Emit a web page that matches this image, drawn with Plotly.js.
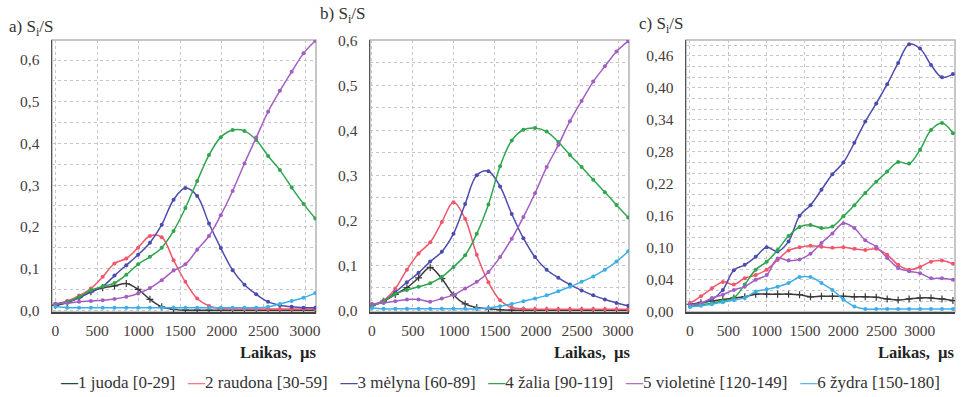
<!DOCTYPE html>
<html>
<head>
<meta charset="utf-8">
<script src="https://cdn.plot.ly/plotly-3.0.1.min.js"></script>
<style>html,body{margin:0;padding:0;background:#fff;}#chart{width:961px;height:397px;}</style>
</head>
<body>
<div id="chart"></div>
<script>
// ---- data ----
const seriesNames = ['1 juoda [0-29]', '2 raudona [30-59]', '3 mėlyna [60-89]', '4 žalia [90-119]', '5 violetinė [120-149]', '6 žydra [150-180]'];
const tA = [0,142,284,426,568,710,852,994,1136,1278,1420,1562,1704,1846,1988,2130,2272,2414,2556,2698,2840,2982,3124];
const tB = [0,142,284,426,568,710,852,994,1136,1278,1420,1562,1704,1846,1988,2130,2272,2414,2556,2698,2840,2982,3124];
const tC = [0,143,286,429,572,715,858,1001,1144,1287,1430,1573,1716,1859,2002,2145,2288,2431,2574,2717,2860,3003,3146,3289,3432];

const juodaA = [0.012,0.018,0.03,0.044,0.054,0.058,0.064,0.05,0.026,0.008,0.002,0,0,0,0,0,0,0,0,0,0,0,0];
const raudonaA = [0.015,0.022,0.035,0.052,0.08,0.112,0.124,0.15,0.178,0.175,0.12,0.068,0.028,0.01,0.004,0.003,0.003,0.003,0.003,0.003,0.003,0.003,0.003];
const melynaA = [0.015,0.02,0.03,0.044,0.057,0.083,0.108,0.133,0.162,0.205,0.265,0.293,0.274,0.208,0.149,0.096,0.061,0.038,0.02,0.012,0.008,0.006,0.006];
const zaliaA = [0.015,0.02,0.032,0.048,0.057,0.065,0.085,0.11,0.128,0.15,0.19,0.245,0.31,0.372,0.415,0.432,0.43,0.408,0.37,0.336,0.294,0.255,0.22];
const violetineA = [0.015,0.017,0.02,0.022,0.024,0.027,0.032,0.04,0.053,0.072,0.095,0.11,0.145,0.178,0.228,0.286,0.352,0.414,0.476,0.526,0.572,0.616,0.646];
const zydraA = [0.008,0.006,0.006,0.006,0.006,0.006,0.006,0.006,0.006,0.006,0.006,0.006,0.006,0.006,0.006,0.006,0.006,0.006,0.008,0.015,0.022,0.03,0.041];

const juodaB = [0.01,0.02,0.035,0.05,0.072,0.095,0.07,0.034,0.014,0.006,0.003,0.001,0,0,0,0,0,0,0,0,0,0,0];
const raudonaB = [0.012,0.022,0.048,0.09,0.126,0.151,0.196,0.24,0.203,0.123,0.062,0.022,0.006,0.003,0.002,0.002,0.002,0.002,0.002,0.002,0.002,0.002,0.002];
const melynaB = [0.01,0.02,0.04,0.062,0.083,0.108,0.13,0.17,0.236,0.3,0.309,0.275,0.214,0.16,0.118,0.09,0.072,0.057,0.044,0.033,0.024,0.016,0.01];
const zaliaB = [0.01,0.02,0.036,0.045,0.052,0.06,0.074,0.096,0.122,0.17,0.235,0.32,0.377,0.401,0.405,0.397,0.374,0.345,0.318,0.29,0.262,0.234,0.206];
const violetineB = [0.014,0.016,0.02,0.024,0.024,0.019,0.026,0.034,0.048,0.063,0.085,0.118,0.159,0.207,0.26,0.318,0.367,0.42,0.465,0.508,0.542,0.575,0.598];
const zydraB = [0.005,0.003,0.003,0.003,0.003,0.003,0.003,0.003,0.003,0.003,0.005,0.009,0.014,0.02,0.026,0.033,0.042,0.052,0.063,0.075,0.09,0.108,0.131];

const juodaC = [-0.006,-0.003,0.0,0.003,0.006,0.008,0.013,0.013,0.013,0.013,0.012,0.008,0.009,0.009,0.009,0.008,0.008,0.007,0.004,0.002,0.004,0.006,0.006,0.004,0.001];
const raudonaC = [-0.004,0.009,0.024,0.036,0.031,0.043,0.049,0.059,0.077,0.095,0.101,0.104,0.102,0.1,0.101,0.098,0.096,0.098,0.087,0.068,0.059,0.064,0.074,0.076,0.07];
const melynaC = [-0.007,-0.004,0.003,0.021,0.058,0.068,0.083,0.101,0.093,0.112,0.16,0.18,0.209,0.238,0.26,0.297,0.337,0.371,0.407,0.447,0.482,0.474,0.443,0.42,0.426];
const zaliaC = [-0.01,-0.007,-0.004,0.0,0.006,0.031,0.059,0.074,0.096,0.122,0.139,0.143,0.137,0.14,0.159,0.18,0.203,0.224,0.243,0.261,0.258,0.284,0.321,0.334,0.315];
const violetineC = [-0.007,-0.004,0.006,0.012,0.021,0.027,0.04,0.049,0.08,0.076,0.078,0.089,0.109,0.127,0.146,0.137,0.114,0.102,0.081,0.062,0.056,0.052,0.043,0.043,0.04];
const zydraC = [-0.011,-0.009,-0.006,-0.002,0.002,0.006,0.018,0.022,0.027,0.034,0.045,0.045,0.034,0.021,0.003,-0.01,-0.015,-0.015,-0.015,-0.015,-0.015,-0.015,-0.015,-0.015,-0.015];

const yTickValsAB = [0,0.1,0.2,0.3,0.4,0.5,0.6];
const yTickTextAB = ['0,0','0,1','0,2','0,3','0,4','0,5','0,6'];
const yTickValsC = [-0.02,0.04,0.10,0.16,0.22,0.28,0.34,0.40,0.46];
const yTickTextC = ['0,00','0,04','0,10','0,16','0,22','0,28','0,34','0,40','0,46'];
const panelTitles = ['a) S<sub>i</sub>/S', 'b) S<sub>i</sub>/S', 'c) S<sub>i</sub>/S'];
const xTitle = 'Laikas,\u00a0 µs';

// ---- styles ----
const colors = ['#3a3a3a', '#f2566a', '#4c4cae', '#2fa64e', '#a35ec2', '#3eaee6'];
const legendColors = ['#1f4a4a', '#f2788a', '#4c4cae', '#2fa64e', '#b070cc', '#5ab8ec'];
const W = 961, H = 397;
const xDom = [[52/W, 316/W], [370/W, 629/W], [686/W, 955/W]];
const yDom = [1 - 312/H, 1 - 40/H];

const panels = [
  {t: tA, ys: [juodaA, raudonaA, melynaA, zaliaA, violetineA, zydraA]},
  {t: tB, ys: [juodaB, raudonaB, melynaB, zaliaB, violetineB, zydraB]},
  {t: tC, ys: [juodaC, raudonaC, melynaC, zaliaC, violetineC, zydraC]}
];

const traces = [];
panels.forEach((p, pi) => {
  const xa = pi === 0 ? 'x' : 'x' + (pi + 1);
  const ya = pi === 0 ? 'y' : 'y' + (pi + 1);
  p.ys.forEach((y, si) => {
    traces.push({
      x: p.t, y: y, xaxis: xa, yaxis: ya, type: 'scatter', mode: 'lines+markers',
      name: seriesNames[si], showlegend: false,
      line: {color: colors[si], width: 1.5, shape: 'spline', smoothing: 1},
      marker: si === 0
        ? {symbol: 'cross-thin', size: 5, color: colors[si], line: {color: colors[si], width: 1.2}}
        : {symbol: 'circle', size: 4, color: colors[si]},
      hoverinfo: 'skip'
    });
  });
});

const tickFont = {family: 'Liberation Serif', size: 15.5, color: '#463c3c'};
function xAxis(dom, range) {
  return {domain: dom, range: range, tickmode: 'linear', tick0: 0, dtick: 500,
    showline: true, linecolor: '#444', linewidth: 1.5, mirror: false,
    showgrid: true, gridcolor: '#c6c6c6', griddash: 'dot', gridwidth: 1,
    zeroline: false, ticks: '', ticklabelstandoff: 4, tickfont: tickFont, fixedrange: true};
}
function yAxis(anchor, range, vals, text, minorDtick) {
  return {domain: yDom, anchor: anchor, range: range, tickmode: 'array', tickvals: vals, ticktext: text,
    showline: true, linecolor: '#555', linewidth: 1.5, mirror: false,
    showgrid: true, gridcolor: '#c6c6c6', griddash: 'dot', gridwidth: 1,
    minor: {tickmode: 'linear', tick0: 0, dtick: minorDtick, showgrid: true, gridcolor: '#c6c6c6', griddash: 'dot', gridwidth: 1, ticks: ''},
    zeroline: false, ticks: '', ticklabelstandoff: 8, tickfont: tickFont, fixedrange: true};
}

const annotations = [];
const titlePos = [[7, 28], [318, 15], [637, 25]];
panelTitles.forEach((txt, i) => {
  annotations.push({text: txt, xref: 'paper', yref: 'paper', x: titlePos[i][0]/W, y: 1 - titlePos[i][1]/H,
    xanchor: 'left', yanchor: 'middle', showarrow: false,
    font: {family: 'Liberation Serif', size: 17, color: '#333'}});
});
const xTitleRight = [319, 633, 957];
xTitleRight.forEach(r => {
  annotations.push({text: '<b>' + xTitle + '</b>', xref: 'paper', yref: 'paper', x: r/W, y: 1 - 352/H,
    xanchor: 'right', yanchor: 'middle', showarrow: false,
    font: {family: 'Liberation Serif', size: 16.5, color: '#222'}});
});
const legendText = seriesNames.map((n, i) => '<span style="color:' + legendColors[i] + ';font-weight:bold">—</span>' + n).join('   ');
annotations.push({text: legendText, xref: 'paper', yref: 'paper', x: 500/W, y: 1 - 382/H,
  xanchor: 'center', yanchor: 'middle', showarrow: false,
  font: {family: 'Liberation Serif', size: 17, color: '#333'}});

const shapes = [0, 1, 2].map(i => ({
  type: 'rect', xref: (i === 0 ? 'x' : 'x' + (i + 1)) + ' domain', yref: (i === 0 ? 'y' : 'y' + (i + 1)) + ' domain',
  x0: 0, x1: 1, y0: 0, y1: 1, line: {color: '#b4b4b4', width: 1.5}, layer: 'below'
}));

const layout = {
  width: W, height: H, margin: {l: 0, r: 0, t: 0, b: 0},
  paper_bgcolor: '#fff', plot_bgcolor: '#fff', showlegend: false,
  xaxis: Object.assign(xAxis(xDom[0], [-41, 3132]), {anchor: 'y'}),
  xaxis2: Object.assign(xAxis(xDom[1], [-24, 3134]), {anchor: 'y2'}),
  xaxis3: Object.assign(xAxis(xDom[2], [-52, 3459]), {anchor: 'y3'}),
  yaxis: yAxis('x', [-0.0043, 0.648], yTickValsAB, yTickTextAB, 0.05),
  yaxis2: yAxis('x2', [-0.004, 0.6005], yTickValsAB, yTickTextAB, 0.05),
  yaxis3: yAxis('x3', [-0.0205, 0.49], yTickValsC, yTickTextC, 0.02),
  annotations: annotations, shapes: shapes
};

Plotly.newPlot('chart', traces, layout, {staticPlot: true, displayModeBar: false});
</script>
</body>
</html>
